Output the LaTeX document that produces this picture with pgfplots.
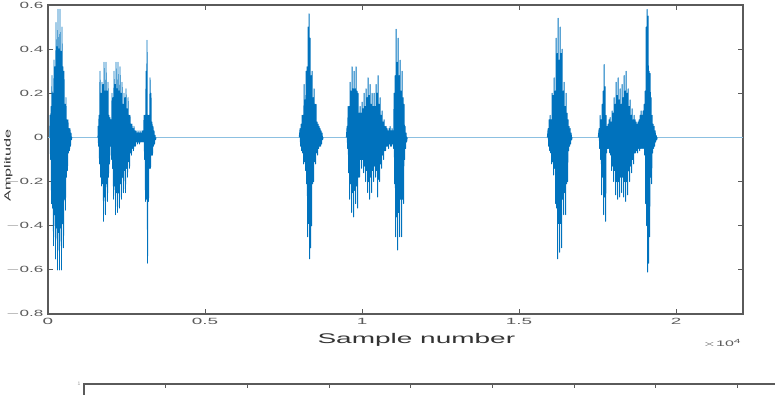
\documentclass[border=0pt]{standalone}
\usepackage{pgfplots}
\pgfplotsset{compat=1.18}
\usepackage{graphicx}
\usepackage{fontspec}
\setmainfont{Liberation Sans}
\definecolor{mblue}{RGB}{0,114,189}
\definecolor{axgray}{RGB}{90,90,90}
\newcommand{\sx}[1]{\scalebox{2.1}[1]{#1}}
\newcommand{\sy}[1]{\scalebox{1.9}[1]{#1}}
\begin{document}
\begin{tikzpicture}
\begin{axis}[
  name=main,
  scale only axis, width=695pt, height=309pt,
  at={(48pt,80pt)}, anchor=south west,
  xmin=0, xmax=22130, ymin=-0.8, ymax=0.6,
  axis line style={axgray, line width=1.2pt},
  tick style={axgray, line width=1pt},
  tick align=inside, major tick length=5pt,
  xtick={0,5000,10000,15000,20000},
  xticklabels={\sx{0},\sx{0.5},\sx{1},\sx{1.5},\sx{2}},
  scaled x ticks=false,
  ytick={-0.8,-0.6,-0.4,-0.2,0,0.2,0.4,0.6},
  yticklabels={\sy{$-$0.8},\sy{$-$0.6},\sy{$-$0.4},\sy{$-$0.2},\sy{0},\sy{0.2},\sy{0.4},\sy{0.6}},
  /pgf/number format/assume math mode=true,
  xticklabel style={font=\fontsize{9}{10}\selectfont, text=axgray, yshift=-1pt},
  yticklabel style={font=\fontsize{9}{10}\selectfont, text=axgray, xshift=-1pt},
  xlabel={Sample number},
  xlabel style={font=\fontsize{14}{15}\selectfont, text=black!80, xscale=2, at={(axis description cs:0.53,-0.084)}, anchor=center},
  ylabel={Amplitude},
  ylabel style={font=\fontsize{9}{10}\selectfont, text=black!80, xscale=1.8, at={(axis description cs:-0.057,0.48)}, anchor=center},
  clip=true,
  unbounded coords=jump,
]
\addplot[mblue!45, line width=1.4pt] coordinates {(0,0) (22130,0)};
\addplot[mblue, line width=0.9pt, line join=round] table {
x y
60 0
64 0.10
80 -0.10
96 0.14
112 -0.30
127 0.28
143 -0.32
159 0.20
175 -0.49
191 0.35
207 -0.35
223 0.32
239 -0.55
255 0.52
271 -0.41
287 0.41
303 -0.60
318 0.58
334 -0.43
350 0.40
366 -0.60
382 0.58
398 -0.41
414 0.39
430 -0.60
446 0.50
462 -0.39
478 0.32
494 -0.50
510 0.30
526 -0.28
541 0.15
557 -0.33
573 0.18
589 -0.18
605 0.08
621 -0.15
637 0.08
653 -0.07
669 0.04
685 -0.06
701 0.04
717 -0.04
733 0.02
749 -0.01
760 0
1100 nan
1590 0
1593 0.05
1609 -0.04
1624 0.10
1640 -0.12
1656 0.30
1672 -0.18
1688 0.20
1704 -0.22
1720 0.25
1736 -0.21
1752 0.24
1768 -0.38
1784 0.34
1800 -0.27
1815 0.21
1831 -0.35
1847 0.34
1863 -0.21
1879 0.21
1895 -0.29
1911 0.25
1927 -0.18
1943 0.10
1959 -0.12
1975 0.09
1991 -0.04
2006 0.08
2022 -0.10
2038 0.20
2054 -0.14
2070 0.18
2086 -0.28
2102 0.30
2118 -0.22
2134 0.24
2150 -0.35
2166 0.34
2182 -0.25
2198 0.22
2214 -0.34
2229 0.34
2245 -0.25
2261 0.21
2277 -0.32
2293 0.32
2309 -0.21
2325 0.20
2341 -0.28
2357 0.25
2373 -0.18
2389 0.15
2405 -0.25
2420 0.20
2436 -0.15
2452 0.18
2468 -0.25
2484 0.22
2500 -0.14
2516 0.13
2532 -0.18
2548 0.18
2564 -0.11
2580 0.10
2596 -0.14
2612 0.10
2628 -0.07
2643 0.06
2659 -0.08
2675 0.06
2691 -0.05
2707 0.04
2723 -0.06
2739 0.05
2755 -0.04
2771 0.03
2787 -0.04
2803 0.03
2819 -0.02
2835 0.02
2851 -0.03
2866 0.03
2882 -0.02
2898 0.02
2914 -0.03
2930 0.03
2946 -0.02
2962 0.02
2978 -0.02
2994 0.03
3010 -0.02
3026 0.03
3042 -0.02
3058 0.10
3074 -0.10
3089 0.10
3105 -0.29
3121 0.30
3137 -0.28
3153 0.44
3169 -0.57
3185 0.10
3201 -0.29
3217 0.10
3233 -0.14
3249 0.27
3265 -0.14
3280 0.20
3296 -0.08
3312 0.07
3328 -0.08
3344 0.05
3360 -0.04
3376 0.03
3392 -0.03
3408 0.01
3424 -0.01
3440 0
5000 nan
8000 0
8026 0.04
8042 -0.04
8058 0.06
8074 -0.06
8090 0.10
8106 -0.07
8122 0.10
8138 -0.12
8154 0.24
8170 -0.11
8186 0.17
8202 -0.15
8217 0.30
8233 -0.21
8249 0.32
8265 -0.45
8281 0.50
8297 -0.39
8313 0.56
8329 -0.55
8345 0.45
8361 -0.50
8377 0.28
8393 -0.40
8408 0.30
8424 -0.21
8440 0.18
8456 -0.20
8472 0.22
8488 -0.11
8504 0.15
8520 -0.12
8536 0.15
8552 -0.07
8568 0.07
8584 -0.08
8600 0.06
8616 -0.05
8631 0.05
8647 -0.04
8663 0.04
8679 -0.04
8695 0.03
8711 -0.03
8727 0.02
8743 -0.01
8760 0
9100 nan
9500 0
9523 0.05
9539 -0.05
9555 0.14
9571 -0.16
9587 0.14
9603 -0.28
9619 0.25
9635 -0.21
9650 0.21
9666 -0.34
9682 0.32
9698 -0.25
9714 0.22
9730 -0.36
9746 0.30
9762 -0.24
9778 0.22
9794 -0.30
9810 0.32
9826 -0.22
9842 0.21
9858 -0.32
9873 0.20
9889 -0.18
9905 0.11
9921 -0.18
9937 0.14
9953 -0.10
9969 0.11
9985 -0.14
10001 0.16
10017 -0.10
10033 0.13
10049 -0.16
10065 0.20
10081 -0.13
10096 0.14
10112 -0.20
10128 0.22
10144 -0.15
10160 0.18
10176 -0.25
10192 0.27
10208 -0.20
10224 0.19
10240 -0.28
10256 0.24
10272 -0.18
10288 0.15
10304 -0.25
10319 0.20
10335 -0.15
10351 0.14
10367 -0.20
10383 0.20
10399 -0.13
10415 0.14
10431 -0.18
10447 0.24
10463 -0.15
10479 0.20
10495 -0.27
10510 0.28
10526 -0.19
10542 0.15
10558 -0.20
10574 0.18
10590 -0.12
10606 0.10
10622 -0.14
10638 0.12
10654 -0.08
10670 0.07
10686 -0.10
10702 0.08
10718 -0.06
10733 0.05
10749 -0.06
10765 0.05
10781 -0.04
10797 0.04
10813 -0.04
10829 0.03
10845 -0.05
10861 0.04
10877 -0.03
10893 0.05
10909 -0.04
10925 0.03
10941 -0.04
10956 0.04
10972 -0.03
10988 0.03
11004 -0.05
11020 0.20
11036 -0.21
11052 0.28
11068 -0.45
11084 0.49
11100 -0.36
11116 0.34
11132 -0.51
11148 0.45
11164 -0.34
11179 0.28
11195 -0.45
11211 0.35
11227 -0.28
11243 0.21
11259 -0.45
11275 0.30
11291 -0.28
11307 0.18
11323 -0.30
11339 0.15
11355 -0.10
11371 0.05
11387 -0.05
11402 0.02
11418 -0.02
11440 0
13000 nan
15900 0
15925 0.04
15941 -0.04
15957 0.08
15973 -0.06
15989 0.10
16005 -0.07
16021 0.08
16037 -0.12
16052 0.20
16068 -0.11
16084 0.19
16100 -0.17
16116 0.27
16132 -0.14
16148 0.21
16164 -0.30
16180 0.45
16196 -0.32
16212 0.38
16228 -0.55
16244 0.54
16260 -0.39
16275 0.35
16291 -0.52
16307 0.50
16323 -0.39
16339 0.38
16355 -0.50
16371 0.40
16387 -0.28
16403 0.21
16419 -0.35
16435 0.25
16451 -0.25
16467 0.14
16483 -0.35
16498 0.20
16514 -0.21
16530 0.11
16546 -0.20
16562 0.08
16578 -0.06
16594 0.05
16610 -0.04
16626 0.04
16642 -0.03
16658 0.02
16674 -0.01
16690 0
17000 nan
17520 0
17549 0.04
17565 -0.05
17581 0.10
17597 -0.10
17613 0.08
17629 -0.26
17645 0.15
17661 -0.18
17677 0.21
17693 -0.35
17709 0.33
17725 -0.27
17741 0.23
17757 -0.38
17772 0.10
17788 -0.07
17804 0.05
17820 -0.05
17836 0.06
17852 -0.05
17868 0.08
17884 -0.07
17900 0.09
17916 -0.08
17932 0.07
17948 -0.15
17964 0.12
17980 -0.13
17996 0.11
18012 -0.20
18027 0.18
18043 -0.15
18059 0.15
18075 -0.26
18091 0.25
18107 -0.20
18123 0.19
18139 -0.28
18155 0.27
18171 -0.20
18187 0.17
18203 -0.27
18219 0.22
18235 -0.18
18250 0.15
18266 -0.25
18282 0.24
18298 -0.18
18314 0.18
18330 -0.27
18346 0.28
18362 -0.20
18378 0.21
18394 -0.29
18410 0.30
18426 -0.20
18442 0.20
18458 -0.26
18474 0.22
18490 -0.15
18505 0.14
18521 -0.20
18537 0.17
18553 -0.13
18569 0.10
18585 -0.16
18601 0.13
18617 -0.10
18633 0.08
18649 -0.12
18665 0.10
18681 -0.07
18697 0.08
18713 -0.07
18728 0.07
18744 -0.06
18760 0.06
18776 -0.07
18792 0.07
18808 -0.05
18824 0.08
18840 -0.06
18856 0.10
18872 -0.05
18888 0.12
18904 -0.05
18920 0.10
18936 -0.05
18951 0.12
18967 -0.05
18983 0.15
18999 -0.08
19015 0.21
19031 -0.30
19047 0.50
19063 -0.40
19079 0.58
19095 -0.61
19111 0.55
19127 -0.57
19143 0.30
19159 -0.45
19175 0.29
19191 -0.18
19206 0.18
19222 -0.21
19238 0.10
19254 -0.07
19270 0.06
19286 -0.05
19302 0.05
19318 -0.04
19334 0.03
19350 -0.02
19366 0.01
19382 -0.01
19400 0
};
\end{axis}
\node[anchor=east, font=\fontsize{8}{9}\selectfont, text=axgray, xscale=2, inner sep=0pt] at (742pt,51pt) {$\times$10\textsuperscript{4}};
\begin{axis}[
  scale only axis, width=735pt, height=200pt,
  at={(84pt,10pt)}, anchor=north west,
  xmin=0, xmax=9, ymin=0, ymax=1,
  axis line style={axgray, line width=1.2pt},
  tick style={axgray, line width=1pt},
  tick align=inside, major tick length=4pt,
  xtick={0,1,...,9}, xticklabels={},
  ytick={1}, yticklabels={1},
  yticklabel style={font=\fontsize{5}{6}\selectfont, text=black!40},
]
\end{axis}
\pgfresetboundingbox
\path[use as bounding box] (0,0) rectangle (775pt,394pt);
\end{tikzpicture}
\end{document}
